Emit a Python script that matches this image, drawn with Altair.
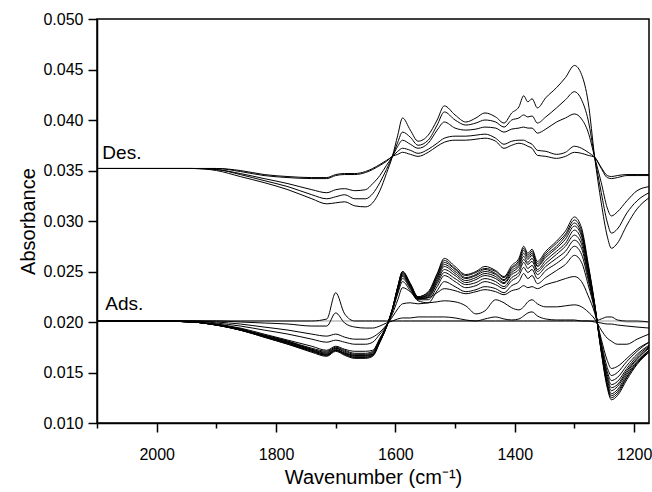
import altair as alt
import pandas as pd

WAVENUMBER = [2100, 2000, 1940, 1900, 1860, 1820, 1780, 1740, 1715, 1700,
              1685, 1668, 1650, 1638, 1626, 1615, 1605, 1596, 1588, 1575,
              1562, 1545, 1530, 1518, 1500, 1482, 1465, 1450, 1432, 1418,
              1405, 1393, 1385, 1378, 1371, 1362, 1348, 1330, 1315, 1300,
              1288, 1277, 1266, 1255, 1245, 1238, 1228, 1212, 1195, 1175]

# ---- Desorption spectra (upper family) ----
DES_1 = [.0352, .0352, .0352, .0350, .0344, .0338, .0331, .0322, .0317, .0318,
         .0319, .0315, .0314, .0318, .0330, .0347, .0364, .0385, .0402, .0390,
         .0379, .0385, .0400, .0414, .0405, .0398, .0402, .0407, .0403, .0397,
         .0407, .0413, .0424, .0418, .0421, .0412, .0422, .0432, .0442, .0454,
         .0445, .0418, .0363, .0318, .0285, .0273, .0278, .0296, .0312, .0323]
DES_2 = [.0352, .0352, .0352, .0351, .0346, .0340, .0334, .0326, .0322, .0324,
         .0326, .0322, .0322, .0327, .0338, .0351, .0364, .0378, .0388, .0383,
         .0375, .0380, .0395, .0408, .0400, .0395, .0397, .0400, .0398, .0393,
         .0400, .0402, .0405, .0403, .0404, .0397, .0403, .0412, .0420, .0428,
         .0420, .0400, .0363, .0328, .0299, .0288, .0292, .0308, .0320, .0328]
DES_3 = [.0352, .0352, .0352, .0351, .0347, .0342, .0337, .0331, .0328, .0331,
         .0332, .0330, .0331, .0337, .0345, .0355, .0364, .0374, .0380, .0376,
         .0372, .0377, .0390, .0398, .0392, .0390, .0391, .0393, .0392, .0388,
         .0391, .0392, .0393, .0392, .0392, .0387, .0391, .0398, .0402, .0406,
         .0401, .0388, .0363, .0338, .0313, .0305, .0309, .0320, .0330, .0334]
DES_4 = [.0352, .0352, .0352, .0352, .0350, .0346, .0344, .0343, .0343, .0346,
         .0347, .0347, .0349, .0352, .0356, .0360, .0364, .0369, .0372, .0370,
         .0367, .0371, .0377, .0382, .0384, .0384, .0385, .0386, .0382, .0376,
         .0379, .0380, .0380, .0378, .0376, .0370, .0369, .0366, .0368, .0374,
         .0372, .0368, .0363, .0353, .0345, .0344, .0345, .0346, .0346, .0346]
DES_5 = [.0352, .0352, .0352, .0352, .0349, .0345, .0343, .0342, .0342, .0345,
         .0346, .0346, .0348, .0351, .0355, .0359, .0364, .0366, .0368, .0366,
         .0364, .0368, .0374, .0378, .0380, .0380, .0381, .0382, .0379, .0372,
         .0375, .0377, .0376, .0374, .0372, .0365, .0364, .0362, .0364, .0368,
         .0367, .0365, .0363, .0352, .0343, .0342, .0343, .0345, .0345, .0345]

# ---- Adsorption spectra (lower family) ----
ADS_1 = [.0201, .0201, .0200, .0197, .0192, .0185, .0178, .0170, .0166, .0171,
         .0167, .0164, .0164, .0166, .0180, .0195, .0213, .0235, .0250, .0238,
         .0225, .0230, .0248, .0263, .0255, .0247, .0250, .0255, .0251, .0245,
         .0256, .0263, .0275, .0268, .0272, .0260, .0270, .0280, .0290, .0304,
         .0293, .0258, .0218, .0170, .0135, .0123, .0127, .0143, .0158, .0170]
ADS_2 = [.0201, .0201, .0200, .0197, .0192, .0185, .0178, .0171, .0167, .0172,
         .0168, .0165, .0165, .0167, .0180, .0195, .0213, .0235, .0250, .0238,
         .0225, .0229, .0247, .0261, .0253, .0246, .0249, .0253, .0250, .0244,
         .0254, .0261, .0273, .0266, .0270, .0258, .0268, .0278, .0287, .0301,
         .0290, .0256, .0217, .0171, .0137, .0125, .0129, .0145, .0159, .0171]
ADS_3 = [.0201, .0201, .0200, .0197, .0192, .0186, .0179, .0171, .0167, .0172,
         .0168, .0165, .0165, .0167, .0181, .0195, .0213, .0234, .0249, .0237,
         .0224, .0228, .0245, .0259, .0252, .0244, .0247, .0252, .0248, .0242,
         .0253, .0259, .0271, .0264, .0268, .0256, .0266, .0275, .0285, .0298,
         .0287, .0255, .0217, .0172, .0138, .0127, .0131, .0146, .0160, .0172]
ADS_4 = [.0201, .0201, .0200, .0197, .0192, .0186, .0179, .0172, .0168, .0172,
         .0169, .0166, .0166, .0168, .0181, .0195, .0213, .0234, .0248, .0237,
         .0224, .0227, .0244, .0257, .0250, .0243, .0246, .0250, .0247, .0241,
         .0251, .0257, .0268, .0262, .0266, .0255, .0264, .0273, .0282, .0295,
         .0285, .0253, .0216, .0172, .0140, .0129, .0133, .0148, .0161, .0172]
ADS_5 = [.0201, .0201, .0200, .0197, .0193, .0186, .0180, .0172, .0168, .0173,
         .0169, .0167, .0167, .0168, .0181, .0195, .0212, .0233, .0247, .0236,
         .0224, .0226, .0242, .0255, .0248, .0241, .0244, .0248, .0245, .0239,
         .0249, .0255, .0265, .0259, .0263, .0252, .0261, .0270, .0278, .0291,
         .0281, .0251, .0216, .0174, .0143, .0132, .0136, .0150, .0163, .0174]
ADS_6 = [.0201, .0201, .0200, .0197, .0193, .0186, .0180, .0173, .0169, .0174,
         .0170, .0167, .0167, .0169, .0182, .0196, .0212, .0232, .0246, .0235,
         .0223, .0225, .0240, .0252, .0246, .0239, .0242, .0246, .0243, .0238,
         .0247, .0252, .0262, .0257, .0260, .0250, .0258, .0267, .0275, .0286,
         .0277, .0248, .0215, .0175, .0145, .0135, .0138, .0152, .0164, .0175]
ADS_7 = [.0201, .0201, .0200, .0197, .0193, .0187, .0181, .0173, .0170, .0174,
         .0171, .0168, .0168, .0170, .0182, .0196, .0212, .0232, .0245, .0234,
         .0223, .0224, .0238, .0249, .0243, .0237, .0239, .0243, .0240, .0235,
         .0244, .0249, .0259, .0253, .0256, .0247, .0255, .0263, .0270, .0281,
         .0273, .0245, .0214, .0176, .0148, .0138, .0141, .0154, .0166, .0176]
ADS_8 = [.0201, .0201, .0200, .0198, .0193, .0187, .0181, .0174, .0171, .0175,
         .0172, .0169, .0169, .0171, .0183, .0196, .0211, .0230, .0243, .0233,
         .0222, .0222, .0235, .0246, .0240, .0234, .0236, .0240, .0237, .0233,
         .0241, .0246, .0254, .0249, .0252, .0243, .0251, .0258, .0265, .0275,
         .0267, .0242, .0213, .0177, .0151, .0142, .0145, .0157, .0168, .0177]
ADS_9 = [.0201, .0201, .0200, .0198, .0194, .0188, .0182, .0176, .0172, .0176,
         .0173, .0171, .0171, .0172, .0184, .0196, .0211, .0228, .0240, .0231,
         .0221, .0219, .0231, .0240, .0235, .0230, .0232, .0235, .0233, .0229,
         .0236, .0240, .0248, .0243, .0246, .0238, .0244, .0251, .0257, .0266,
         .0259, .0237, .0212, .0180, .0155, .0147, .0150, .0161, .0171, .0180]
ADS_10 = [.0201, .0201, .0201, .0199, .0196, .0192, .0188, .0183, .0180, .0182,
          .0180, .0178, .0178, .0180, .0188, .0196, .0208, .0222, .0234, .0230,
          .0223, .0224, .0229, .0233, .0231, .0228, .0230, .0232, .0230, .0227,
          .0231, .0233, .0236, .0234, .0235, .0233, .0237, .0240, .0243, .0245,
          .0240, .0226, .0209, .0183, .0162, .0154, .0156, .0164, .0173, .0180]
ADS_11 = [.0201, .0201, .0201, .0200, .0198, .0195, .0192, .0188, .0186, .0188,
          .0185, .0183, .0183, .0185, .0190, .0197, .0205, .0213, .0218, .0219,
          .0218, .0219, .0220, .0221, .0220, .0216, .0208, .0211, .0222, .0219,
          .0214, .0212, .0215, .0220, .0222, .0218, .0215, .0215, .0216, .0217,
          .0215, .0210, .0203, .0192, .0184, .0181, .0178, .0178, .0183, .0188]
ADS_12 = [.0201, .0201, .0201, .0201, .0200, .0199, .0198, .0196, .0196, .0209,
          .0199, .0195, .0194, .0194, .0196, .0199, .0201, .0203, .0204, .0204,
          .0205, .0205, .0205, .0205, .0204, .0202, .0201, .0203, .0205, .0203,
          .0202, .0203, .0206, .0209, .0210, .0206, .0203, .0202, .0202, .0202,
          .0201, .0201, .0200, .0199, .0198, .0198, .0197, .0196, .0195, .0194]
ADS_13 = [.0201, .0201, .0201, .0201, .0201, .0201, .0201, .0201, .0203, .0229,
          .0208, .0201, .0201, .0201, .0201, .0201, .0201, .0201, .0201, .0201,
          .0201, .0201, .0201, .0201, .0201, .0201, .0201, .0201, .0201, .0201,
          .0201, .0201, .0201, .0201, .0201, .0201, .0201, .0201, .0201, .0201,
          .0201, .0201, .0201, .0203, .0205, .0205, .0202, .0201, .0201, .0200]
ADS_REF = [.0201, .0201, .0201, .0201, .0201, .0201, .0201, .0201, .0201, .0201,
           .0201, .0201, .0201, .0201, .0201, .0201, .0201, .0201, .0201, .0201,
           .0201, .0201, .0201, .0201, .0201, .0201, .0201, .0201, .0201, .0201,
           .0201, .0201, .0201, .0201, .0201, .0201, .0201, .0201, .0201, .0201,
           .0201, .0201, .0201, .0201, .0201, .0201, .0201, .0200, .0200, .0200]

SERIES = {
    "ref": ADS_REF,
    "D1": DES_1, "D2": DES_2, "D3": DES_3, "D4": DES_4, "D5": DES_5,
    "A1": ADS_1, "A2": ADS_2, "A3": ADS_3, "A4": ADS_4, "A5": ADS_5,
    "A6": ADS_6, "A7": ADS_7, "A8": ADS_8, "A9": ADS_9, "A10": ADS_10,
    "A11": ADS_11, "A12": ADS_12, "A13": ADS_13,
}

LABEL_TEXT = ["Des.", "Ads."]
LABEL_WN = [2091, 2086]
LABEL_ABS = [0.0361, 0.0212]

X_TICKS = [2100, 2000, 1900, 1800, 1700, 1600, 1500, 1400, 1300, 1200]
Y_TICKS = [0.010, 0.0125, 0.015, 0.0175, 0.020, 0.0225, 0.025, 0.0275, 0.030,
           0.0325, 0.035, 0.0375, 0.040, 0.0425, 0.045, 0.0475, 0.050]

rows = []
for name, vals in SERIES.items():
    tone = "gray" if name == "ref" else "black"
    for order, (w, v) in enumerate(zip(WAVENUMBER, vals)):
        rows.append({"wn": w, "absorbance": v, "curve": name, "tone": tone, "o": order})
df = pd.DataFrame(rows)

labels = pd.DataFrame({"wn": LABEL_WN, "absorbance": LABEL_ABS, "text": LABEL_TEXT})

FONT = "Liberation Sans"

x_scale = alt.Scale(domain=[1175, 2100], reverse=True, nice=False, zero=False)
y_scale = alt.Scale(domain=[0.010, 0.050], nice=False, zero=False)

x_axis = alt.Axis(
    title="Wavenumber (cm⁻¹)",
    values=X_TICKS,
    format="d",
    labelExpr="datum.value % 200 === 0 ? datum.label : ''",
    tickSize={"condition": {"test": "datum.value % 200 === 0", "value": 9}, "value": 5},
    grid=False,
    labelFontSize=16,
    titleFontSize=20,
    titleFontWeight="normal",
    labelPadding=14,
    titlePadding=5,
)
y_axis = alt.Axis(
    title="Absorbance",
    values=Y_TICKS,
    labelExpr="round(datum.value * 1000) % 5 === 0 ? format(datum.value, '.3f') : ''",
    tickSize={"condition": {"test": "round(datum.value * 1000) % 5 === 0", "value": 9}, "value": 5},
    grid=False,
    labelFontSize=16,
    titleFontSize=20,
    titleFontWeight="normal",
    labelPadding=5,
    titlePadding=4,
)

lines = alt.Chart(df).mark_line(interpolate="monotone", strokeWidth=1, clip=True).encode(
    x=alt.X("wn:Q", scale=x_scale, axis=x_axis),
    y=alt.Y("absorbance:Q", scale=y_scale, axis=y_axis),
    detail="curve:N",
    order="o:Q",
    color=alt.Color("tone:N", scale=alt.Scale(domain=["black", "gray"], range=["#000000", "#9a9a9a"]), legend=None),
)

text = alt.Chart(labels).mark_text(align="left", baseline="alphabetic", fontSize=19, font=FONT, color="black").encode(
    x=alt.X("wn:Q", scale=x_scale),
    y=alt.Y("absorbance:Q", scale=y_scale),
    text="text:N",
)

chart = alt.layer(lines, text).properties(
    width=552,
    height=404,
    autosize=alt.AutoSizeParams(type="none"),
    padding={"left": 97, "top": 19, "right": 3, "bottom": 69},
    background="white",
).configure_view(
    stroke="black", strokeWidth=1.5
).configure_axis(
    domainColor="black", domainWidth=1.5, tickColor="black", tickWidth=1.5,
    labelColor="black", titleColor="black", labelFont=FONT, titleFont=FONT,
)

chart.save("out.html", embed_options={"renderer": "svg", "actions": False})
